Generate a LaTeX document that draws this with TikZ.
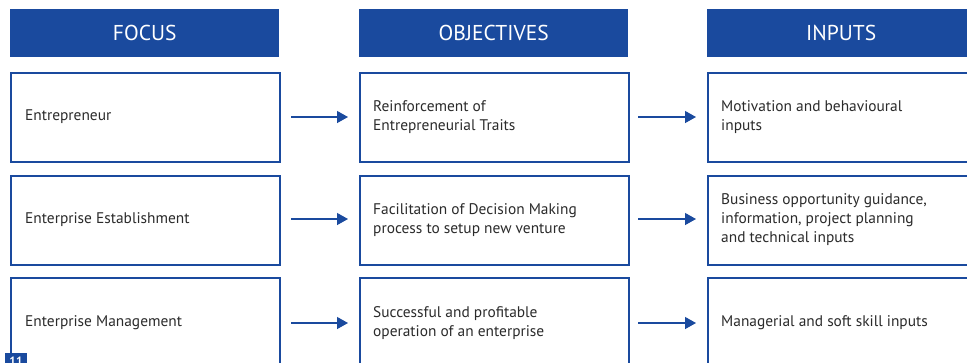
\documentclass[tikz,border=0pt]{standalone}
\usepackage{fontspec}
\setmainfont{PT Sans}
\usetikzlibrary{arrows.meta}
\definecolor{hblue}{HTML}{1A4A9E}
\definecolor{tgray}{HTML}{2B2B2B}
\tikzset{
  hdr/.style={fill=hblue, draw=none, minimum width=269pt, minimum height=48pt, inner sep=0pt, anchor=north west, text=white, font=\fontsize{21.5}{24}\selectfont},
  cell/.style={draw=hblue, line width=1.8pt, fill=white, minimum height=89pt, inner sep=0pt, anchor=north west},
  lbl/.style={anchor=west, align=left, text=tgray, inner sep=0pt, font=\fontsize{15.4}{19}\selectfont},
  arr/.style={draw=hblue, line width=1.3pt, -{Triangle[length=11pt,width=12pt]}}
}
\begin{document}
\begin{tikzpicture}[x=1pt,y=1pt]
\useasboundingbox (0,0) rectangle (967,-362);
\clip (0,0) rectangle (967,-362);
% headers
\node[hdr] (h1) at (10,-9) {\raisebox{-2pt}{FOCUS}};
\node[hdr] (h2) at (359,-9) {\raisebox{-2pt}{OBJECTIVES}};
\node[hdr, minimum width=280pt] (h3) at (707,-9) {\hspace*{-12pt}\raisebox{-2pt}{INPUTS}};
% row 1
\node[cell, minimum width=269pt] (a1) at (10,-72) {};
\node[cell, minimum width=269pt] (b1) at (359,-72) {};
\node[cell, minimum width=280pt] (c1) at (707,-72) {};
% row 2
\node[cell, minimum width=269pt] (a2) at (10,-175) {};
\node[cell, minimum width=269pt] (b2) at (359,-175) {};
\node[cell, minimum width=280pt] (c2) at (707,-175) {};
% row 3
\node[cell, minimum width=269pt, minimum height=100pt] (a3) at (10,-277) {};
\node[cell, minimum width=269pt, minimum height=100pt] (b3) at (359,-277) {};
\node[cell, minimum width=280pt, minimum height=100pt] (c3) at (707,-277) {};
% labels
\node[lbl] (ta1) at (25,-117) {Entrepreneur};
\node[lbl] (tb1) at (373,-117) {Reinforcement of\\Entrepreneurial Traits};
\node[lbl] (tc1) at (721,-117) {Motivation and behavioural\\inputs};
\node[lbl] (ta2) at (25,-220) {Enterprise Establishment};
\node[lbl] (tb2) at (373,-220) {Facilitation of Decision Making\\process to setup new venture};
\node[lbl] (tc2) at (721,-220) {Business opportunity guidance,\\information, project planning\\and technical inputs};
\node[lbl] (ta3) at (25,-323) {Enterprise Management};
\node[lbl] (tb3) at (373,-323) {Successful and profitable\\operation of an enterprise};
\node[lbl] (tc3) at (721,-323) {Managerial and soft skill inputs};
% arrows
\coordinate (p1) at (291,-117); \coordinate (q1) at (348,-117);
\coordinate (r1) at (638,-117); \coordinate (s1) at (696,-117);
\coordinate (p2) at (291,-219); \coordinate (q2) at (348,-219);
\coordinate (r2) at (638,-219); \coordinate (s2) at (696,-219);
\coordinate (p3) at (291,-323); \coordinate (q3) at (348,-323);
\coordinate (r3) at (638,-323); \coordinate (s3) at (696,-323);
\draw[arr] (p1) -- (q1);
\draw[arr] (r1) -- (s1);
\draw[arr] (p2) -- (q2);
\draw[arr] (r2) -- (s2);
\draw[arr] (p3) -- (q3);
\draw[arr] (r3) -- (s3);
% page number
\node[fill=hblue, text=white, anchor=north west, minimum width=22pt, minimum height=16pt, inner sep=0pt, font=\bfseries\fontsize{12}{12}\selectfont] (pg) at (5,-353) {\raisebox{-3pt}{11}};
\end{tikzpicture}
\end{document}
